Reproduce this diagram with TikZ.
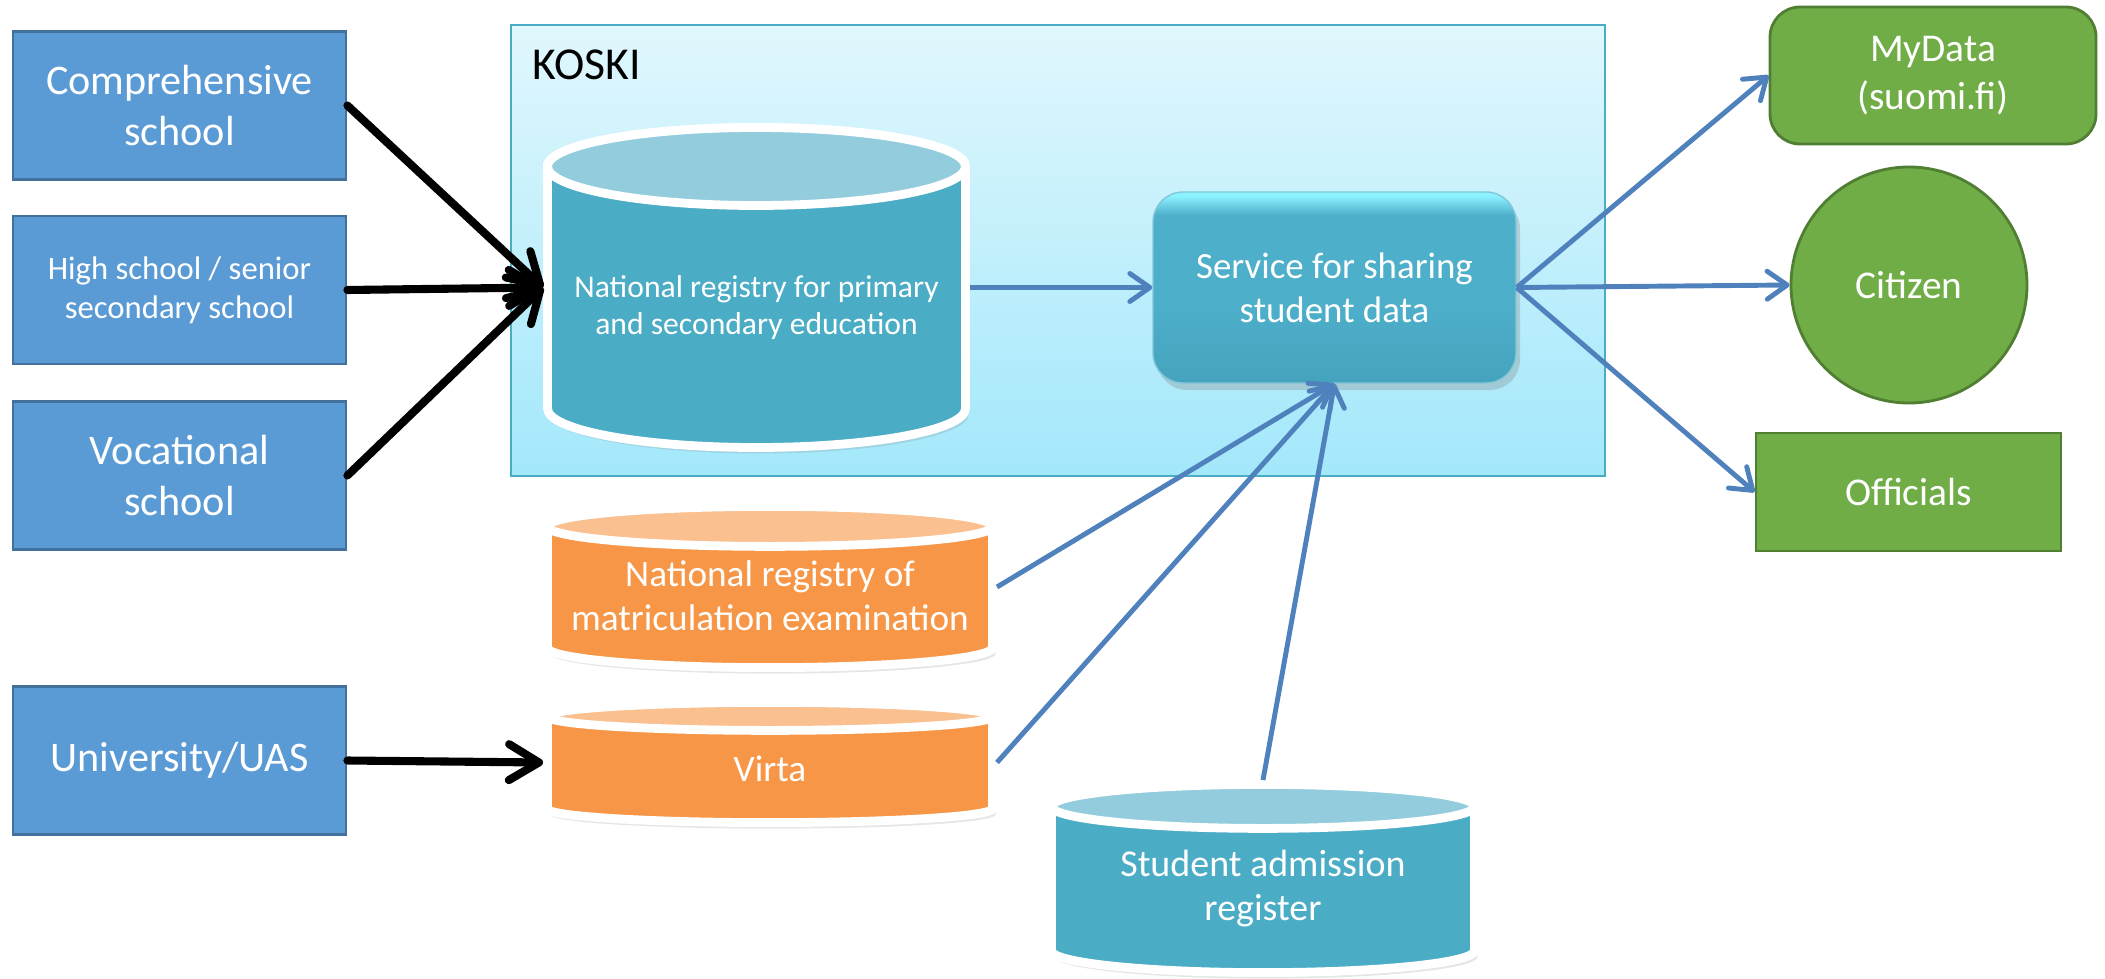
\documentclass[tikz,border=0pt]{standalone}
\usepackage{fontspec}
\setmainfont{Carlito}
\usetikzlibrary{arrows.meta,shadows}

\definecolor{schoolblue}{HTML}{5B9BD5}
\definecolor{schooledge}{HTML}{41719C}
\definecolor{koskitop}{HTML}{E1F7FD}
\definecolor{koskibottom}{HTML}{A3E8FB}
\definecolor{koskiedge}{HTML}{4BACC6}
\definecolor{tealbody}{HTML}{4BACC6}
\definecolor{tealtop}{HTML}{93CDDD}
\definecolor{svctop}{HTML}{8CF2FF}
\definecolor{svcmid}{HTML}{4EAFCA}
\definecolor{svcbottom}{HTML}{45A3BD}
\definecolor{orangebody}{HTML}{F79646}
\definecolor{orangetop}{HTML}{FAC090}
\definecolor{usergreen}{HTML}{70AD47}
\definecolor{usergreenedge}{HTML}{507E32}
\definecolor{flowblue}{HTML}{4F81BD}

\pgfdeclareverticalshading{svcshade}{100bp}{color(0bp)=(svcbottom); color(25bp)=(svcbottom);
  color(45bp)=(svcmid); color(69bp)=(svcmid); color(74bp)=(svctop); color(100bp)=(svctop)}

% database drum: centre x, centre y, x radius, y radius, half body, body colour, lid colour
\newcommand{\drum}[7]{%
  \draw[drumline, fill=#6] ({#1-#3},{#2+#5}) -- ({#1-#3},{#2-#5})
    arc[start angle=180, end angle=360, x radius=#3, y radius=#4]
    -- ({#1+#3},{#2+#5})
    arc[start angle=0, end angle=180, x radius=#3, y radius=#4] -- cycle;
  \draw[white, line width=2.5pt, fill=#7] (#1,{#2+#5}) ellipse [x radius=#3, y radius=#4];
}

\tikzset{
  schoolbox/.style={rectangle, fill=schoolblue, draw=schooledge, line width=0.8pt,
    text=white, align=center, minimum width=3.33cm, minimum height=1.48cm,
    font=\fontsize{12}{14.5}\selectfont},
  koskibox/.style={rectangle, top color=koskitop, bottom color=koskibottom,
    draw=koskiedge, line width=0.8pt},
  drumline/.style={white, line width=2.5pt,
    drop shadow={opacity=0.2, shadow xshift=0.03cm, shadow yshift=-0.06cm}},
  drumspot/.style={rectangle, inner sep=0pt, outer sep=0pt},
  drumtext/.style={text=white, align=center},
  svcbox/.style={rectangle, rounded corners=0.3cm, shading=svcshade,
    draw=svcmid!70!white, text=white, align=center,
    minimum width=3.63cm, minimum height=1.91cm,
    drop shadow={opacity=0.3, shadow xshift=0.04cm, shadow yshift=-0.07cm},
    font=\fontsize{10.5}{12.6}\selectfont},
  userbox/.style={fill=usergreen, draw=usergreenedge, line width=0.8pt,
    text=white, align=center, font=\fontsize{11.2}{13.7}\selectfont},
  feedarrow/.style={black, line width=2.3pt, line cap=round,
    -{Straight Barb[length=3mm, width=3.6mm, round]}},
  flowarrow/.style={flowblue, line width=1.4pt,
    -{Straight Barb[length=2mm, width=2.8mm, round]}},
}

\begin{document}
\begin{tikzpicture}
  \useasboundingbox (0,0) rectangle (21.05,9.78);

  % KOSKI frame
  \node[koskibox, minimum width=10.94cm, minimum height=4.51cm] (koski) at (10.58,7.275) {};
  \node[anchor=base west, inner sep=0pt, font=\fontsize{13}{15}\selectfont] (koskilabel) at (5.32,8.98) {KOSKI};

  % data sources
  \node[schoolbox] (comp) at (1.795,8.725) {Comprehensive\\school};
  \node[schoolbox, font=\fontsize{9.3}{11}\selectfont] (high) at (1.795,6.88) {High school / senior\\secondary school};
  \node[schoolbox] (voc) at (1.795,5.025) {Vocational\\school};
  \node[schoolbox] (univ) at (1.795,2.175) {University/UAS};

  % registries
  \drum{7.565}{6.905}{2.09}{0.39}{1.21}{tealbody}{tealtop}
  \drum{7.70}{3.91}{2.226}{0.2}{0.606}{orangebody}{orangetop}
  \drum{7.70}{2.155}{2.226}{0.14}{0.461}{orangebody}{orangetop}
  \drum{12.63}{0.995}{2.116}{0.22}{0.721}{tealbody}{tealtop}

  \node[drumspot, minimum width=4.27cm, minimum height=3.29cm,
    label={[drumtext, yshift=-0.2cm, font=\fontsize{9}{10.7}\selectfont]center:{National registry for primary\\and secondary education}}]
    (natreg) at (7.565,6.905) {};
  \node[drumspot, minimum width=4.54cm, minimum height=1.70cm,
    label={[drumtext, yshift=-0.09cm, font=\fontsize{10.6}{12.6}\selectfont]center:{National registry of\\matriculation examination}}]
    (matric) at (7.70,3.91) {};
  \node[drumspot, minimum width=4.54cm, minimum height=1.29cm,
    label={[drumtext, yshift=-0.06cm, font=\fontsize{10.6}{12.6}\selectfont]center:Virta}]
    (virta) at (7.70,2.155) {};
  \node[drumspot, minimum width=4.32cm, minimum height=1.97cm,
    label={[drumtext, yshift=-0.1cm, font=\fontsize{10.8}{12.6}\selectfont]center:{Student admission\\register}}]
    (admission) at (12.63,0.995) {};

  % sharing service
  \node[svcbox] (service) at (13.345,6.905) {Service for sharing\\student data};

  % receivers
  \node[userbox, rounded corners=0.3cm, minimum width=3.26cm, minimum height=1.37cm] (mydata) at (19.33,9.025) {MyData\\(suomi.fi)};
  \node[userbox, circle, minimum size=2.36cm] (citizen) at (19.09,6.93) {Citizen};
  \node[userbox, minimum width=3.05cm, minimum height=1.18cm] (officials) at (19.085,4.86) {Officials};

  \begin{scope}[feedarrow]
    \draw (comp.east) -- (natreg.west);
    \draw (high.east) -- (natreg.west);
    \draw (voc.east) -- (natreg.west);
    \draw (univ.east) -- (virta.west);
  \end{scope}

  \begin{scope}[flowarrow]
    \draw (natreg.east) -- (service.west);
    \draw (matric.east) -- (service.south);
    \draw (virta.east) -- (service.south);
    \draw (admission.north) -- (service.south);
    \draw (service.east) -- (mydata.west);
    \draw (service.east) -- (citizen.west);
    \draw (service.east) -- (officials.west);
  \end{scope}
\end{tikzpicture}
\end{document}
